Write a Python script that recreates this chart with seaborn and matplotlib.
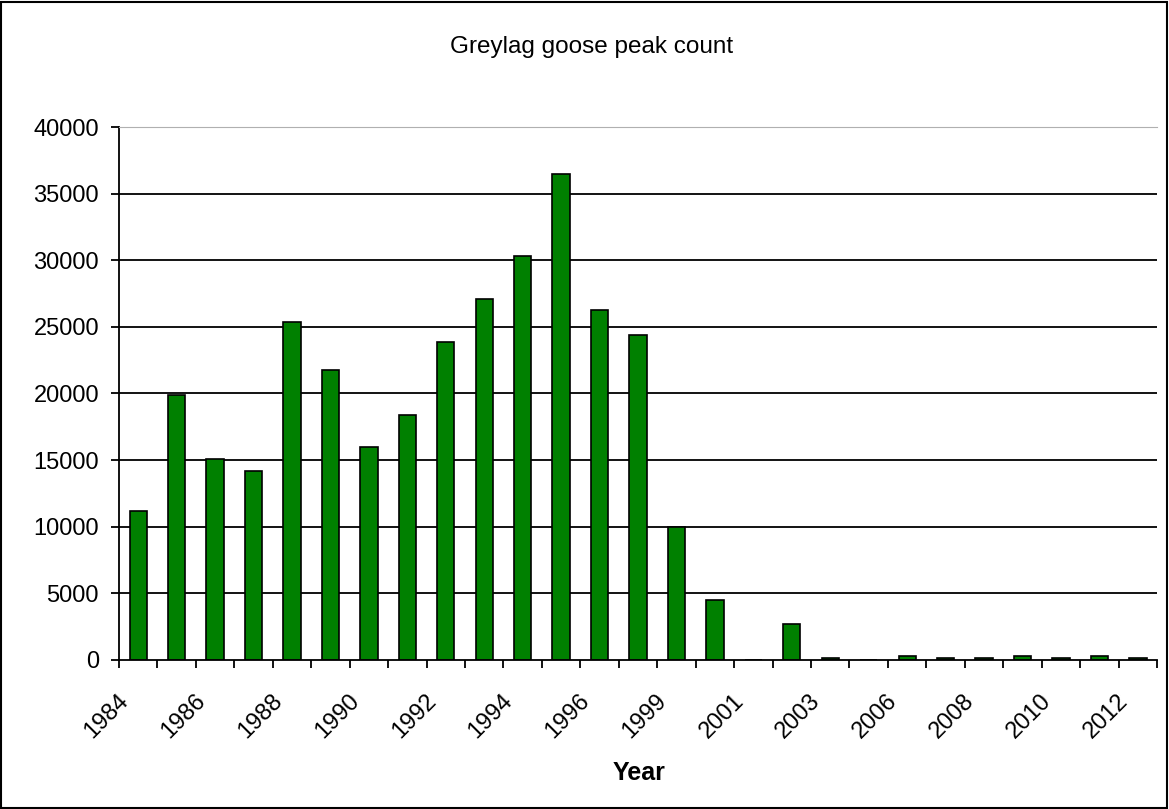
import matplotlib
matplotlib.use("Agg")
import matplotlib.pyplot as plt
import seaborn as sns
import pandas as pd
from matplotlib.patches import Rectangle

# peak counts per season
years = ["1984", "1985", "1986", "1987", "1988", "1989", "1990", "1991", "1992",
         "1993", "1994", "1995", "1996", "1997", "1999", "2000", "2001", "2002",
         "2003", "2005", "2006", "2007", "2008", "2009", "2010", "2011", "2012"]
counts = [11200, 19900, 15100, 14200, 25400, 21800, 16000, 18400, 23900,
          27100, 30300, 36500, 26300, 24400, 10000, 4500, 0, 2700,
          150, 0, 300, 150, 150, 300, 150, 300, 150]
yticks = [0, 5000, 10000, 15000, 20000, 25000, 30000, 35000, 40000]

df = pd.DataFrame({"Year": years, "Count": counts})

sns.set_style("white")
plt.rcParams["font.family"] = ["Liberation Sans", "DejaVu Sans"]
plt.rcParams["text.color"] = "black"
plt.rcParams["xtick.color"] = "black"
plt.rcParams["ytick.color"] = "black"
plt.rcParams["xtick.labelcolor"] = "black"
plt.rcParams["ytick.labelcolor"] = "black"

fig = plt.figure(figsize=(11.69, 8.09), dpi=100)
ax = fig.add_axes([0.1018, 0.1842, 0.8880, 0.6588])

# horizontal gridlines under bars
for v in yticks[1:-1]:
    ax.axhline(v, color="black", lw=1.3, zorder=0)

sns.barplot(data=df, x="Year", y="Count", color="#008000", saturation=1,
            width=0.45, edgecolor="black", linewidth=1.2, ax=ax, zorder=2)

ax.set_xlim(-0.5, len(years) - 0.5)
ax.set_ylim(0, 40000)
ax.set_yticks(yticks)
ax.set_yticklabels([str(v) for v in yticks], fontsize=17)

# every other year labelled; labels nudged left like the original
pos = list(range(0, len(years), 2))
ax.set_xticks([p - 0.34 for p in pos])
ax.set_xticklabels([years[i] for i in pos], rotation=45, ha="right", va="center",
                   rotation_mode="anchor", fontsize=17)
ax.set_xticks([i - 0.5 for i in range(len(years) + 1)], minor=True)
ax.tick_params(axis="x", which="major", bottom=True, length=0, pad=27)
ax.tick_params(axis="x", which="minor", bottom=True, length=6, width=1.3, direction="out")
ax.tick_params(axis="y", which="major", left=True, length=6, width=1.3, direction="out", pad=8.4)

ax.spines["right"].set_visible(False)
ax.spines["top"].set_color("#b0b0b0")
ax.spines["left"].set_color("black")
ax.spines["bottom"].set_color("black")
ax.spines["left"].set_linewidth(1.3)
ax.spines["bottom"].set_linewidth(1.3)

ax.set_ylabel("")
ax.set_xlabel("")
fig.text(0.5466, 0.0445, "Year", ha="center", va="center", fontsize=18, fontweight="bold")
fig.text(0.5064, 0.942, "Greylag goose peak count", ha="center", va="center", fontsize=17.5)

fig.patches.append(Rectangle((0.001, 0.001), 0.997, 0.997, transform=fig.transFigure,
                             fill=False, edgecolor="black", lw=1.5))

fig.savefig("out.png", dpi=100)
